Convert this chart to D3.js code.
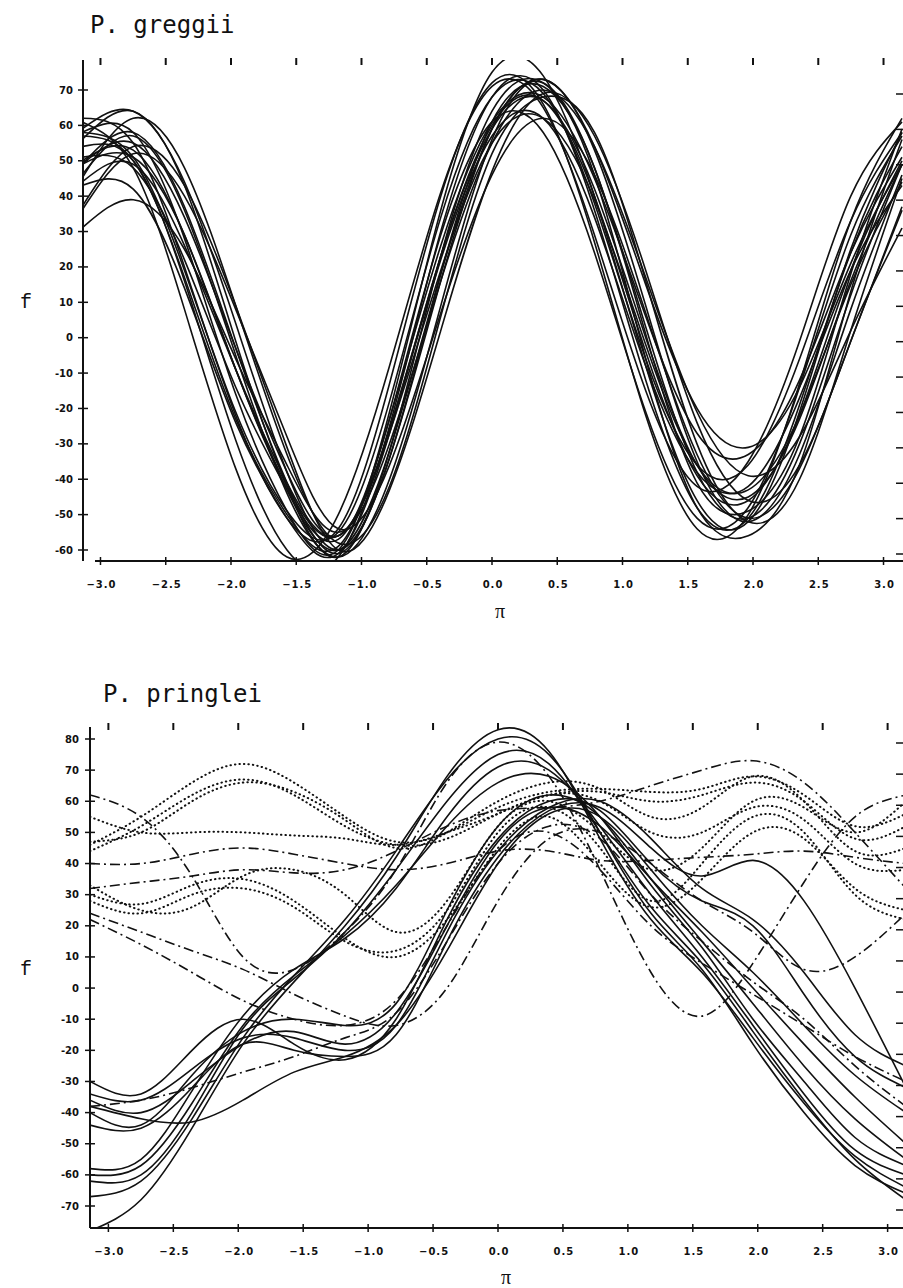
<!DOCTYPE html>
<html>
<head>
<meta charset="utf-8">
<script src="https://cdn.jsdelivr.net/npm/d3@7"></script>
<style>
  body { margin: 0; background: #fff; }
  svg { display: block; }
</style>
</head>
<body>
<svg id="chart" width="903" height="1288"></svg>
<script>
var tPoints = [-3.1416, -2.7489, -2.3562, -1.9635, -1.5708, -1.1781, -0.7854, -0.3927, 0,
               0.3927, 0.7854, 1.1781, 1.5708, 1.9635, 2.3562, 2.7489, 3.1416];

var xTickValues = [-3.0, -2.5, -2.0, -1.5, -1.0, -0.5, 0.0, 0.5, 1.0, 1.5, 2.0, 2.5, 3.0];
var greggiiYTicks = [70, 60, 50, 40, 30, 20, 10, 0, -10, -20, -30, -40, -50, -60];
var pringleiYTicks = [80, 70, 60, 50, 40, 30, 20, 10, 0, -10, -20, -30, -40, -50, -60, -70];

// P. greggii: one curve per tree, f read at tPoints
var greggiiCurves = [
    [50, 53, 29, -9, -42, -56, -26, 23, 60, 67, 40, -4, -39, -46, -22, 19, 50],
    [49, 58, 37, -3, -41, -61, -34, 16, 59, 72, 48, 3, -38, -51, -30, 12, 49],
    [58, 51, 19, -21, -49, -55, -18, 34, 68, 69, 38, -6, -36, -36, -6, 33, 58],
    [36, 52, 40, 8, -28, -54, -36, 7, 46, 62, 46, 7, -33, -51, -37, -1, 36],
    [58, 58, 28, -16, -49, -60, -21, 36, 75, 74, 40, -8, -46, -52, -21, 25, 58],
    [49, 51, 29, -9, -43, -60, -32, 18, 59, 73, 54, 15, -20, -31, -14, 21, 49],
    [62, 55, 20, -22, -51, -54, -13, 40, 72, 66, 27, -22, -54, -50, -13, 33, 62],
    [37, 54, 43, 9, -31, -60, -43, 2, 47, 69, 57, 19, -24, -46, -36, -1, 37],
    [31, 39, 25, -6, -36, -55, -30, 16, 55, 70, 54, 17, -21, -39, -28, 2, 31],
    [54, 50, 16, -29, -60, -62, -25, 30, 68, 70, 36, -12, -48, -51, -19, 24, 54],
    [49, 55, 34, -3, -38, -56, -26, 23, 59, 67, 42, 0, -36, -45, -23, 16, 49],
    [46, 57, 36, -5, -44, -62, -40, 9, 56, 73, 53, 9, -35, -52, -33, 8, 46],
    [51, 48, 22, -14, -43, -57, -23, 26, 61, 68, 45, 6, -27, -33, -12, 24, 51],
    [57, 50, 17, -23, -50, -59, -23, 29, 61, 58, 24, -21, -51, -48, -14, 29, 57],
    [56, 64, 43, -1, -42, -62, -32, 23, 64, 72, 46, -6, -48, -56, -36, 13, 56],
    [61, 48, 8, -37, -62, -50, -8, 41, 71, 65, 29, -15, -42, -35, -1, 40, 61],
    [44, 49, 26, -9, -41, -56, -27, 19, 55, 62, 39, -2, -36, -43, -22, 15, 44],
    [59, 64, 44, 4, -38, -60, -34, 18, 61, 71, 48, 1, -41, -49, -28, 18, 59],
    [45, 62, 48, 9, -33, -58, -42, 6, 52, 68, 58, 16, -30, -52, -40, 2, 45],
    [43, 42, 14, -24, -51, -61, -27, 22, 57, 62, 34, -8, -38, -42, -17, 19, 43]
];

// P. pringlei, grouped by the line style used in the figure
var pringleiSolid = [
    [-78, -68, -45, -18, 2, 20, 42, 68, 83, 76, 48, 22, 5, -16, -37, -54, -64],
    [-67, -62, -42, -16, 4, 22, 44, 67, 80, 75, 50, 24, 6, -18, -40, -57, -66],
    [-62, -60, -40, -13, 3, 18, 38, 60, 75, 72, 50, 26, 8, -14, -36, -55, -68],
    [-58, -55, -33, -9, 6, 16, 32, 55, 71, 70, 52, 30, 10, -12, -34, -52, -60],
    [-60, -57, -37, -12, 4, 17, 33, 52, 66, 68, 55, 33, 13, -10, -30, -48, -57],
    [-30, -34, -20, -10, -18, -23, -10, 22, 48, 60, 57, 40, 28, 20, -2, -22, -32],
    [-44, -45, -32, -18, -20, -22, -15, 15, 42, 57, 58, 45, 36, 41, 28, 0, -32],
    [-38, -42, -43, -36, -27, -22, -12, 12, 40, 56, 55, 38, 20, 5, -12, -28, -40],
    [-36, -40, -30, -18, -14, -18, -8, 20, 47, 58, 52, 35, 18, 0, -18, -35, -50],
    [-40, -44, -28, -14, -10, -12, -5, 25, 52, 62, 55, 35, 15, -5, -25, -42, -55],
    [-34, -36, -26, -16, -16, -20, -12, 18, 44, 58, 60, 48, 32, 22, 5, -15, -25]
];
var pringleiDotted = [
    [46, 55, 66, 72, 66, 55, 47, 50, 58, 63, 64, 63, 64, 68, 62, 52, 56],
    [44, 52, 62, 67, 62, 52, 46, 48, 56, 62, 63, 60, 62, 66, 60, 48, 52],
    [47, 50, 60, 66, 63, 54, 45, 50, 60, 66, 64, 55, 58, 68, 60, 44, 45],
    [55, 50, 50, 50, 49, 48, 46, 50, 56, 62, 60, 50, 50, 58, 54, 40, 38],
    [30, 27, 33, 35, 28, 16, 10, 22, 45, 55, 40, 26, 35, 50, 48, 32, 25],
    [28, 24, 30, 32, 26, 15, 12, 25, 50, 58, 45, 28, 40, 55, 50, 30, 22],
    [33, 25, 26, 36, 38, 30, 18, 28, 52, 60, 50, 38, 45, 60, 58, 50, 60]
];
var pringleiDashDot = [
    [62, 55, 36, 10, 6, 18, 38, 66, 79, 68, 38, 5, -9, 8, 34, 55, 62],
    [40, 40, 43, 45, 43, 40, 38, 40, 44, 44, 41, 41, 42, 43, 44, 42, 40],
    [24, 18, 12, 6, -2, -9, -12, 0, 28, 48, 50, 40, 28, 18, 6, 10, 24],
    [-38, -36, -32, -27, -22, -16, -8, 15, 40, 52, 48, 30, 15, 2, -10, -25, -38],
    [32, 34, 36, 38, 37, 38, 44, 52, 57, 58, 60, 65, 70, 73, 66, 50, 32],
    [22, 14, 5, -4, -10, -12, -4, 20, 44, 50, 38, 20, 8, -2, -12, -22, -30]
];

var svg = d3.select("#chart");

// Helper method to draw one panel (axes, labels and curves)
function drawPanel(p) {
    var x = d3.scaleLinear().domain([-Math.PI, Math.PI]).range([p.xLeft, p.xRight]);
    var y = d3.scaleLinear().domain([p.yTicks[p.yTicks.length - 1], p.yTicks[0]])
        .range([p.yBottomTick, p.yTopTick]);
    var g = svg.append("g");

    g.append("text")
        .attr("x", p.titleX).attr("y", p.titleY)
        .style("font-family", "'DejaVu Sans Mono', monospace")
        .style("font-size", "24px")
        .style("fill", "#111")
        .text(p.title);

    // clip curves to the plotting frame
    g.append("clipPath").attr("id", p.id + "clip")
        .append("rect")
        .attr("x", p.axisX).attr("y", p.axisTop)
        .attr("width", 903 - p.axisX).attr("height", p.axisY - p.axisTop);

    var line = d3.line()
        .x(function(d, i) { return x(tPoints[i]); })
        .y(function(d) { return y(d); })
        .curve(d3.curveNatural);

    var curves = g.append("g").attr("clip-path", "url(#" + p.id + "clip)");
    p.groups.forEach(function(grp) {
        curves.selectAll(null)
            .data(grp.data)
            .enter()
            .append("path")
            .attr("d", line)
            .style("fill", "none")
            .style("stroke", "#111")
            .style("stroke-width", grp.width)
            .style("stroke-linecap", grp.cap || "butt")
            .style("stroke-dasharray", grp.dash || null);
    });

    // left axis with cross ticks
    g.append("line")
        .attr("x1", p.axisX).attr("x2", p.axisX)
        .attr("y1", p.axisTop).attr("y2", p.axisY)
        .style("stroke", "#111").style("stroke-width", 2);
    g.selectAll(null).data(p.yTicks).enter().append("line")
        .attr("x1", p.axisX - 5).attr("x2", p.axisX + 5)
        .attr("y1", function(d) { return y(d); })
        .attr("y2", function(d) { return y(d); })
        .style("stroke", "#111").style("stroke-width", 1.5);
    g.selectAll(null).data(p.yTicks).enter().append("text")
        .attr("x", p.yLabelX)
        .attr("y", function(d) { return y(d) + 3.5; })
        .attr("text-anchor", "end")
        .style("font-family", "'DejaVu Sans', sans-serif")
        .style("font-weight", "bold")
        .style("font-size", "10px")
        .style("fill", "#111")
        .text(function(d) { return d; });

    // right side short ticks
    g.selectAll(null).data(p.yTicks).enter().append("line")
        .attr("x1", 896).attr("x2", 903)
        .attr("y1", function(d) { return y(d) + 4; })
        .attr("y2", function(d) { return y(d) + 4; })
        .style("stroke", "#111").style("stroke-width", 1.5);

    // bottom axis
    g.append("line")
        .attr("x1", p.bottomStart).attr("x2", 903)
        .attr("y1", p.axisY).attr("y2", p.axisY)
        .style("stroke", "#111").style("stroke-width", 2);
    g.selectAll(null).data(xTickValues).enter().append("line")
        .attr("x1", function(d) { return x(d); })
        .attr("x2", function(d) { return x(d); })
        .attr("y1", p.axisY - 4).attr("y2", p.axisY + 4)
        .style("stroke", "#111").style("stroke-width", 1.5);
    g.selectAll(null).data(xTickValues).enter().append("text")
        .attr("x", function(d) { return x(d) + 1; })
        .attr("y", p.axisY + 27)
        .attr("text-anchor", "middle")
        .style("font-family", "'DejaVu Sans', sans-serif")
        .style("font-weight", "bold")
        .style("font-size", "10px")
        .style("letter-spacing", "1px")
        .style("fill", "#111")
        .text(function(d) { return d3.format(".1f")(d); });

    // short marks along the top
    g.selectAll(null).data(xTickValues).enter().append("line")
        .attr("x1", function(d) { return x(d); })
        .attr("x2", function(d) { return x(d); })
        .attr("y1", p.topMarkY).attr("y2", p.topMarkY + 7)
        .style("stroke", "#111").style("stroke-width", 2);

    // axis names
    g.append("text")
        .attr("x", 20).attr("y", p.fY)
        .style("font-family", "'Liberation Mono', monospace")
        .style("font-size", "20px")
        .style("fill", "#111")
        .text("f");
    g.append("text")
        .attr("x", x(0) + 8).attr("y", p.piY)
        .attr("text-anchor", "middle")
        .style("font-family", "'Liberation Serif', serif")
        .style("font-size", "20px")
        .style("fill", "#111")
        .text("\u03c0");
}

drawPanel({
    id: "greggii", title: "P. greggii", titleX: 90, titleY: 33,
    xLeft: 82, xRight: 902,
    yTicks: greggiiYTicks, yTopTick: 90, yBottomTick: 550,
    axisX: 83, axisTop: 60, axisY: 561, bottomStart: 95,
    yLabelX: 73, topMarkY: 58, fY: 308, piY: 618,
    groups: [{ data: greggiiCurves, width: 1.6 }]
});

drawPanel({
    id: "pringlei", title: "P. pringlei", titleX: 103, titleY: 702,
    xLeft: 90, xRight: 906,
    yTicks: pringleiYTicks, yTopTick: 739, yBottomTick: 1206,
    axisX: 90, axisTop: 727, axisY: 1228, bottomStart: 90,
    yLabelX: 79, topMarkY: 723, fY: 975, piY: 1284,
    groups: [
        { data: pringleiSolid, width: 1.6 },
        { data: pringleiDotted, width: 2, dash: "0.5,4", cap: "round" },
        { data: pringleiDashDot, width: 1.6, dash: "10,4,2,4" }
    ]
});
</script>
</body>
</html>
